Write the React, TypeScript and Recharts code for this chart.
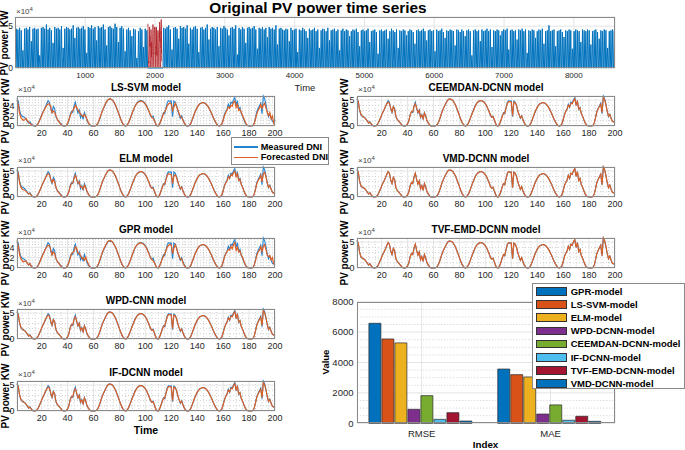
import { LineChart, Line, XAxis, YAxis, CartesianGrid, BarChart, Bar, Legend } from 'recharts'

// ---- data (PV power in units of 1e4 kW) ----
const measured = [
  5.3, 4.8, 3.0, 2.2, 1.9, 1.8, 1.6, 1.3, 0.9, 0.6, 0.8, 0.4, 0.1, 0, 0,
  0.1, 0.4, 0.9, 1.5, 2.1, 2.7, 3.2, 3.7, 4.4, 4.9, 4.6, 3.3, 2.6, 3.8, 3.4, 1.8, 1.3, 1.0, 0.7, 0.4, 0.1, 0,
  0, 0.1, 0.4, 1.0, 2.2, 2.8, 2.6, 3.9, 4.6, 3.4, 2.5, 3.1, 1.6, 2.2, 1.3, 2.6, 1.9, 1.0, 0.6, 0.2, 0, 0, 0, 0,
  0.1, 0.3, 0.8, 1.5, 2.3, 3.0, 3.6, 4.1, 4.6, 5.0, 5.2, 5.2, 5.1, 4.9, 4.5, 4.0, 3.4, 2.7, 2.0, 1.3, 0.7, 0.3, 0.05, 0,
  0.2, 0.6, 1.2, 1.9, 2.6, 3.2, 3.8, 4.3, 4.6, 4.8, 4.9, 4.9, 4.8, 4.6, 4.3, 3.9, 3.3, 2.7, 2.0, 1.7, 1.9, 1.1, 0.4, 0.05,
  0, 0.4, 1.1, 1.9, 2.6, 2.4, 3.6, 4.6, 4.9, 4.8, 4.8, 1.8, 4.8, 4.6, 4.0, 3.0, 2.2, 1.5, 2.0, 1.2, 0.6, 0.2, 0, 0,
  0.1, 0.5, 1.1, 1.8, 2.5, 3.1, 3.6, 4.0, 4.3, 4.4, 4.5, 4.5, 4.4, 4.2, 3.9, 3.5, 3.0, 2.5, 1.9, 1.3, 0.8, 0.4, 0.1, 0,
  0.1, 0.4, 1.2, 2.2, 2.8, 3.3, 4.2, 3.6, 4.6, 4.4, 5.1, 5.5, 4.0, 4.9, 3.2, 3.6, 2.4, 1.9, 1.2, 0.6, 0.2, 0.05, 0, 0, 0,
  0.1, 0.6, 1.6, 2.8, 3.4, 3.9, 4.4, 2.4, 5.8, 5.3, 4.2, 2.8, 1.8, 2.3, 1.5, 0.9, 0.8, 0.8,
]

const lssvm = [
  5.0, 4.1, 2.4, 1.7, 1.3, 1.1, 1.2, 1.5, 1.0, 0.7, 0.5, 0.3, 0.2, 0.1, 0,
  0.1, 0.3, 0.8, 1.4, 2.0, 2.6, 3.1, 3.6, 4.0, 4.3, 4.2, 3.8, 2.6, 2.9, 2.7, 2.0, 1.4, 0.9, 0.6, 0.3, 0.1, 0,
  0, 0.1, 0.5, 1.2, 1.9, 2.6, 3.0, 3.4, 4.0, 3.6, 3.1, 2.8, 2.3, 2.0, 1.8, 2.2, 1.9, 1.3, 0.7, 0.3, 0.1, 0, 0, 0,
  0.1, 0.4, 0.9, 1.6, 2.3, 3.0, 3.6, 4.2, 4.7, 5.0, 5.2, 5.3, 5.1, 4.9, 4.5, 4.0, 3.4, 2.7, 2.0, 1.3, 0.7, 0.3, 0.1, 0,
  0.2, 0.6, 1.2, 1.9, 2.6, 3.2, 3.8, 4.2, 4.5, 4.7, 4.8, 4.8, 4.7, 4.5, 4.2, 3.8, 3.3, 2.7, 2.1, 1.6, 1.5, 1.0, 0.4, 0.1,
  0, 0.4, 1.0, 1.7, 2.4, 2.8, 3.3, 4.0, 4.3, 4.5, 4.2, 3.0, 3.6, 4.4, 3.8, 3.2, 2.4, 1.8, 1.7, 1.1, 0.6, 0.2, 0, 0,
  0.1, 0.5, 1.1, 1.8, 2.5, 3.1, 3.6, 4.0, 4.3, 4.4, 4.5, 4.5, 4.4, 4.2, 3.9, 3.5, 3.0, 2.5, 1.9, 1.3, 0.8, 0.4, 0.1, 0,
  0.1, 0.4, 1.1, 2.0, 2.6, 3.1, 3.7, 3.4, 4.0, 3.8, 4.6, 4.8, 3.6, 4.2, 3.0, 3.2, 2.6, 2.0, 1.4, 0.8, 0.3, 0.1, 0, 0, 0,
  0.1, 0.5, 1.4, 2.4, 3.0, 3.5, 4.2, 3.4, 4.0, 4.4, 3.5, 2.7, 2.0, 2.6, 1.4, 1.9, 0.6, 1.2,
]

const elm = [
  5.2, 4.5, 2.7, 1.9, 1.5, 1.4, 1.3, 1.1, 0.8, 0.6, 0.7, 0.3, 0.1, 0, 0,
  0.1, 0.4, 0.9, 1.5, 2.1, 2.7, 3.2, 3.7, 4.2, 4.5, 4.3, 3.5, 2.8, 3.4, 3.0, 1.9, 1.3, 0.9, 0.6, 0.3, 0.1, 0,
  0, 0.1, 0.4, 1.0, 2.0, 2.6, 2.7, 3.6, 4.2, 3.5, 2.7, 2.9, 1.9, 2.0, 1.5, 2.3, 1.8, 1.1, 0.6, 0.2, 0, 0, 0, 0,
  0.1, 0.3, 0.8, 1.5, 2.3, 3.0, 3.6, 4.1, 4.6, 5.0, 5.2, 5.2, 5.1, 4.9, 4.5, 4.0, 3.4, 2.7, 2.0, 1.3, 0.7, 0.3, 0.1, 0,
  0.2, 0.6, 1.2, 1.9, 2.6, 3.2, 3.8, 4.3, 4.6, 4.8, 4.9, 4.9, 4.8, 4.6, 4.3, 3.9, 3.3, 2.7, 2.0, 1.7, 1.7, 1.1, 0.4, 0.1,
  0, 0.4, 1.1, 1.8, 2.5, 2.5, 3.4, 4.2, 4.5, 4.4, 4.3, 2.6, 4.0, 4.3, 3.8, 3.0, 2.2, 1.6, 1.9, 1.2, 0.6, 0.2, 0, 0,
  0.1, 0.5, 1.1, 1.8, 2.5, 3.1, 3.6, 4.0, 4.3, 4.4, 4.5, 4.5, 4.4, 4.2, 3.9, 3.5, 3.0, 2.5, 1.9, 1.3, 0.8, 0.4, 0.1, 0,
  0.1, 0.4, 1.2, 2.1, 2.7, 3.2, 3.9, 3.6, 4.3, 4.1, 4.7, 5.0, 3.9, 4.5, 3.2, 3.4, 2.4, 1.9, 1.2, 0.6, 0.2, 0.05, 0, 0, 0,
  0.1, 0.6, 1.5, 2.6, 3.2, 3.6, 4.2, 2.9, 4.5, 4.8, 3.9, 2.7, 1.9, 2.2, 1.5, 1.0, 0.7, 0.6,
]

const gpr = [
  5.1, 4.3, 2.6, 1.8, 1.4, 1.2, 1.3, 1.4, 0.9, 0.6, 0.9, 0.3, 0.1, 0, 0,
  0.1, 0.3, 0.8, 1.4, 2.0, 2.6, 3.1, 3.7, 4.1, 4.4, 4.3, 3.6, 2.5, 3.1, 2.8, 1.9, 1.3, 1.0, 0.6, 0.3, 0.1, 0,
  0, 0.1, 0.5, 1.1, 1.8, 2.7, 3.0, 3.2, 4.1, 3.8, 2.9, 2.8, 2.4, 1.8, 2.0, 1.5, 2.1, 1.4, 0.8, 0.3, 0.1, 0, 0, 0,
  0.1, 0.3, 0.9, 1.6, 2.4, 3.1, 3.7, 4.2, 4.7, 5.1, 5.3, 5.3, 5.2, 4.9, 4.5, 4.0, 3.4, 2.7, 2.0, 1.3, 0.7, 0.3, 0.1, 0,
  0.2, 0.6, 1.2, 1.9, 2.6, 3.3, 3.9, 4.3, 4.6, 4.8, 4.9, 4.8, 4.7, 4.5, 4.2, 3.8, 3.2, 2.6, 2.0, 1.6, 1.4, 1.0, 0.4, 0.1,
  0, 0.4, 1.0, 1.7, 2.3, 2.7, 3.4, 4.1, 4.4, 4.6, 4.4, 2.8, 3.8, 4.5, 3.9, 3.0, 2.3, 1.7, 1.8, 1.0, 0.5, 0.2, 0, 0,
  0.1, 0.5, 1.1, 1.8, 2.5, 3.1, 3.6, 4.0, 4.3, 4.4, 4.5, 4.5, 4.4, 4.2, 3.9, 3.5, 3.0, 2.5, 1.9, 1.3, 0.8, 0.4, 0.1, 0,
  0.1, 0.4, 1.2, 2.1, 2.7, 3.2, 3.6, 3.5, 4.2, 3.7, 4.5, 4.9, 3.4, 4.0, 3.1, 3.3, 2.4, 2.1, 1.3, 0.7, 0.3, 0.1, 0, 0, 0,
  0.1, 0.6, 1.5, 2.5, 3.1, 3.4, 4.1, 3.2, 4.2, 4.5, 3.6, 2.5, 2.2, 2.4, 1.6, 2.0, 0.8, 0.6,
]

// decomposition-based models track the measurement closely
const hybrid = [
  5.2, 4.7, 3.1, 2.3, 1.9, 1.7, 1.6, 1.3, 1.0, 0.6, 0.7, 0.4, 0.1, 0, 0,
  0.1, 0.4, 0.9, 1.5, 2.1, 2.7, 3.2, 3.8, 4.3, 4.6, 4.4, 3.5, 2.7, 3.7, 3.3, 1.9, 1.3, 1.0, 0.7, 0.4, 0.1, 0,
  0, 0.1, 0.4, 1.0, 2.1, 2.8, 2.7, 3.8, 4.3, 3.5, 2.6, 3.0, 1.7, 2.1, 1.4, 2.5, 1.9, 1.0, 0.6, 0.2, 0, 0, 0, 0,
  0.1, 0.3, 0.8, 1.5, 2.3, 3.0, 3.6, 4.1, 4.6, 5.0, 5.2, 5.2, 5.1, 4.9, 4.5, 4.0, 3.4, 2.7, 2.0, 1.3, 0.7, 0.3, 0.05, 0,
  0.2, 0.6, 1.2, 1.9, 2.5, 3.1, 3.7, 4.2, 4.6, 4.8, 4.9, 4.9, 4.8, 4.6, 4.3, 3.9, 3.3, 2.7, 2.1, 1.7, 1.8, 1.1, 0.4, 0.05,
  0, 0.4, 1.1, 1.8, 2.5, 2.5, 3.5, 4.4, 4.7, 4.7, 4.6, 2.0, 4.6, 4.5, 4.0, 3.0, 2.2, 1.6, 1.9, 1.2, 0.6, 0.2, 0, 0,
  0.1, 0.5, 1.1, 1.8, 2.5, 3.1, 3.6, 4.0, 4.3, 4.4, 4.5, 4.5, 4.4, 4.2, 3.9, 3.5, 3.0, 2.5, 1.9, 1.3, 0.8, 0.4, 0.1, 0,
  0.1, 0.4, 1.2, 2.1, 2.8, 3.3, 4.0, 3.7, 4.4, 4.3, 4.9, 5.3, 4.1, 4.7, 3.3, 3.5, 2.4, 1.9, 1.2, 0.6, 0.2, 0.05, 0, 0, 0,
  0.1, 0.6, 1.6, 2.7, 3.3, 3.8, 4.2, 2.6, 5.5, 5.1, 4.1, 2.9, 1.9, 2.2, 1.5, 0.9, 0.8, 0.7,
]

// daily peak of the whole-year series (1e4 kW), one per day
const dailyPeaks = [
  4.7, 4.6, 4.8, 4.5, 2.1, 4.7, 4.8, 4.6, 4.9, 3.2, 4.7, 4.8, 4.6, 4.7, 1.5, 4.8, 4.9, 4.7, 5.2, 4.6,
  4.8, 4.5, 3.0, 4.9, 4.7, 4.8, 4.6, 5.0, 2.4, 4.7, 4.9, 4.8, 4.6, 4.7, 5.1, 3.6, 4.8, 4.9, 4.7, 4.8,
  5.0, 4.6, 1.8, 4.9, 4.8, 5.1, 4.7, 4.9, 3.3, 5.0, 4.8, 4.9, 5.2, 4.6, 2.7, 4.9, 5.0, 4.8, 4.7, 5.3,
  4.9, 3.1, 4.8, 5.0, 4.7, 2.0, 4.6, 4.8, 4.5, 3.8, 4.7, 4.6, 1.2, 4.4, 4.8, 4.6, 2.5, 4.7, 4.5, 4.9,
  4.9, 4.6, 5.2, 4.9, 4.8, 4.5, 5.5, 5.8, 4.8, 4.7, 4.9, 5.1, 4.6, 2.2, 4.8, 4.9, 4.7, 3.5, 5.0, 4.8,
  4.9, 4.7, 5.1, 2.9, 4.8, 4.6, 4.9, 5.0, 4.7, 1.9, 4.8, 4.9, 4.6, 4.8, 5.2, 3.4, 4.7, 4.9, 4.8, 4.6,
  4.9, 2.6, 4.8, 4.7, 5.0, 4.8, 4.6, 3.9, 4.8, 4.9, 4.7, 5.1, 1.6, 4.8, 4.6, 4.9, 4.7, 3.0, 4.8, 4.9,
  4.7, 4.8, 5.0, 4.6, 2.3, 4.8, 4.7, 4.9, 4.6, 4.8, 3.7, 4.9, 4.7, 4.8, 4.6, 5.1, 2.8, 4.7, 4.8, 4.6,
  4.5, 4.7, 4.6, 3.2, 4.8, 4.5, 4.6, 4.7, 1.9, 4.6, 4.5, 4.8, 4.6, 4.4, 3.6, 4.7, 4.5, 4.6, 4.8, 4.4,
  4.6, 2.4, 4.5, 4.7, 4.6, 4.4, 4.8, 3.3, 4.5, 4.6, 4.7, 4.4, 4.6, 2.1, 4.5, 4.7, 4.4, 4.6, 4.5, 3.8,
  4.4, 4.6, 4.5, 4.7, 4.3, 2.6, 4.5, 4.6, 4.4, 4.5, 4.7, 3.1, 4.4, 4.5, 4.6, 4.3, 1.7, 4.5, 4.6, 4.4,
  4.5, 4.6, 3.5, 4.4, 4.7, 4.5, 4.3, 4.6, 2.4, 4.5, 4.4, 4.6, 4.5, 3.9, 4.4, 4.6, 4.5, 4.3, 2.9, 4.5,
  4.6, 4.4, 4.5, 4.7, 4.4, 3.3, 4.5, 4.6, 4.4, 4.5, 2.0, 4.6, 4.4, 4.5, 4.7, 4.3, 3.6, 4.5, 4.4, 4.6,
  4.5, 4.4, 2.7, 4.6, 4.5, 4.3, 4.6, 4.4, 3.8, 4.5, 4.6, 4.4, 1.5, 4.5, 4.6, 4.4, 4.5, 3.2, 4.6, 4.4,
  4.5, 4.7, 4.4, 4.6, 2.5, 4.5, 4.4, 4.6, 4.5, 3.9, 4.4, 4.6, 4.5, 4.7, 2.2, 4.5, 4.6, 4.4, 4.5, 3.4,
  4.6, 4.5, 4.7, 4.4, 4.6, 1.8, 4.5, 4.4, 4.6, 4.5, 3.6, 4.4, 4.6, 4.5, 4.7, 2.9, 4.4, 4.5, 5.1, 4.4,
  4.5, 4.6, 2.6, 4.4, 4.5, 4.6, 4.3, 3.7, 4.5, 4.4, 4.6, 4.5, 2.3, 4.4, 4.6, 4.5, 4.4, 3.1, 4.6, 4.5,
  4.4, 4.6, 4.5, 2.8, 4.4, 4.5, 4.6, 4.3, 3.5, 4.5, 4.4, 4.6, 4.5, 2.4, 4.4, 4.5, 4.6, 4.4,
]

const yearTicks = [1000, 2000, 3000, 4000, 5000, 6000, 7000, 8000]
const sampleTicks = [20, 40, 60, 80, 100, 120, 140, 160, 180, 200]
const TEST_START = 1899 // hour of sample 1 inside the year

const metrics = ['RMSE', 'MAE']
const modelNames = ['GPR-model', 'LS-SVM-model', 'ELM-model', 'WPD-DCNN-model', 'CEEMDAN-DCNN-model', 'IF-DCNN-model', 'TVF-EMD-DCNN-model', 'VMD-DCNN-model']
const rmse = [6580, 5550, 5290, 920, 1820, 260, 700, 150]
const mae = [3570, 3200, 3050, 610, 1210, 200, 460, 130]
const valueTicks = [0, 2000, 4000, 6000, 8000]
const barColors = ['#0072BD', '#D95319', '#EDB120', '#7E2F8E', '#77AC30', '#4DBEEE', '#A2142F', '#0072BD']

const lineKeys = ['Measured DNI', 'Forecasted DNI']

// ---- tables ----
const rows = measured.map((v, i) => ({ t: i + 1, m: v, lssvm: lssvm[i], elm: elm[i], gpr: gpr[i], hyb: hybrid[i] }))
const yearBlue = dailyPeaks.flatMap((p, d) => {
  const h = d * 24
  if (h + 12 > TEST_START - 10 && h + 12 < TEST_START + 210) return []
  return [{ t: h + 3, v: 0 }, { t: h + 12, v: p }, { t: h + 21, v: 0 }]
})
const yearRed = measured.map((v, i) => ({ t: TEST_START + i, v }))
const barRows = metrics.map((name, i) => {
  const row: Record<string, number | string> = { name }
  modelNames.forEach((m, j) => { row[m] = i === 0 ? rmse[j] : mae[j] })
  return row
})

// ---- styling ----
const INK = '#262626'
const BLUE = '#2284D0'
const ORANGE = '#DE5F24'
const FRAME = '#8a8a8a'
const MAJOR = '#e4e4e4'
const MINOR = '#d0d0d0'
const FONT = '"Liberation Sans", Arial, Helvetica, sans-serif'

const COL_X = [17, 357]
const COL_W = 258
const ROW_Y = [95.5, 166.75, 238, 309.25, 380.5]
const ROW_H = 30
const Y_MAX = 5.8
const ML = 16
const MT = 2
const MR = 12
const XH = 14

function Txt({ x, y, size = 10, bold = false, color = '#000', rotate = false, anchor = 'middle', children }: any) {
  const tx = anchor === 'middle' ? '-50%' : anchor === 'end' ? '-100%' : '0'
  return (
    <div
      style={{
        position: 'absolute', left: x, top: y, fontSize: size, fontWeight: bold ? 700 : 400, color,
        whiteSpace: 'nowrap', lineHeight: 1, width: 'max-content',
        transform: `translate(${tx},-50%)${rotate ? ' rotate(-90deg)' : ''}`,
      }}
    >
      {children}
    </div>
  )
}

function Exp({ x, y }: { x: number; y: number }) {
  return (
    <div style={{ position: 'absolute', left: x, top: y, fontSize: 8, color: '#404040', lineHeight: 1, whiteSpace: 'nowrap' }}>
      ×10<span style={{ fontSize: 6, position: 'relative', top: -3 }}>4</span>
    </div>
  )
}

function LineKey() {
  return (
    <div style={{ width: '100%', height: '100%', boxSizing: 'border-box', border: `1px solid ${FRAME}`, background: '#fff', position: 'relative' }}>
      {lineKeys.map((k, i) => (
        <div key={k} style={{ position: 'absolute', left: 2, top: 4.2 + i * 10.6, height: 10, display: 'flex', alignItems: 'center', whiteSpace: 'nowrap' }}>
          <div style={{ width: 24, height: 1.4, flexShrink: 0, background: i === 0 ? BLUE : ORANGE }} />
          <span style={{ marginLeft: 3, fontSize: 9.2, fontWeight: 700, color: '#000', lineHeight: 1 }}>{k}</span>
        </div>
      ))}
    </div>
  )
}

function BarKey() {
  return (
    <div style={{ width: '100%', height: '100%', boxSizing: 'border-box', border: `1px solid ${FRAME}`, background: '#fff', position: 'relative' }}>
      {modelNames.map((m, i) => (
        <div key={m} style={{ position: 'absolute', left: 3, top: 1.6 + i * 13.2, height: 12, display: 'flex', alignItems: 'center', whiteSpace: 'nowrap' }}>
          <div style={{ width: 31.5, height: 8.7, flexShrink: 0, boxSizing: 'border-box', background: barColors[i], border: '0.8px solid #333' }} />
          <span style={{ marginLeft: 3.5, fontSize: 9.5, fontWeight: 700, color: '#000', lineHeight: 1 }}>{m}</span>
        </div>
      ))}
    </div>
  )
}

function Panel({ col, row, title, pred, yTicks, withKey }: any) {
  const x = COL_X[col]
  const y = ROW_Y[row]
  const minorX = Array.from({ length: 40 }, (_, i) => (i + 1) * 5).filter((v) => v % 20 !== 0 && v < 200)
  const step = yTicks.length > 2 ? 0.5 : 1
  const minorY = Array.from({ length: 12 }, (_, i) => (i + 1) * step).filter((v) => v < Y_MAX && !yTicks.includes(v))
  const vx = minorX.map((v) => ML + ((v - 1) / 199) * COL_W)
  const hy = minorY.map((v) => MT + ROW_H - (v / Y_MAX) * ROW_H)
  return (
    <>
      <Txt x={x + COL_W / 2} y={y - 8} size={10} bold>{title}</Txt>
      <Txt x={col === 0 ? 5.5 : 345} y={y + ROW_H / 2} size={10} bold rotate>PV power KW</Txt>
      <Exp x={x + 1} y={y - 9.5} />
      <div style={{ position: 'absolute', left: x - ML, top: y - MT }}>
        <LineChart width={ML + COL_W + MR} height={MT + ROW_H + XH} data={rows} margin={{ top: MT, right: MR, left: 0, bottom: 0 }}>
          <CartesianGrid verticalPoints={vx} horizontalPoints={hy} stroke={MINOR} strokeDasharray="1 2" />
          <CartesianGrid stroke={MAJOR} />
          <XAxis dataKey="t" type="number" domain={[1, 200]} ticks={sampleTicks} height={XH} axisLine={false} tickLine={false}
            tickSize={2} tickMargin={1.5} tick={{ fontSize: 9, fill: INK }} interval={0} />
          <YAxis domain={[0, Y_MAX]} ticks={yTicks} width={ML} axisLine={false} tickLine={false}
            tickSize={1} tickMargin={1.5} tick={{ fontSize: 9, fill: INK }} interval={0} />
          <Line dataKey="m" type="linear" stroke={BLUE} strokeWidth={1.1} dot={false} isAnimationActive={false} />
          <Line dataKey={pred} type="linear" stroke={ORANGE} strokeWidth={1.2} dot={false} isAnimationActive={false} />
          {withKey && (
            <Legend layout="vertical" align="center" verticalAlign="middle"
              wrapperStyle={{ left: 229.7, top: 137 - (y - MT), width: 98, height: 27.5, zIndex: 3 }}
              content={() => <LineKey />} />
          )}
        </LineChart>
        <div style={{ position: 'absolute', left: ML, top: MT, width: COL_W, height: ROW_H, boxSizing: 'border-box', border: `1px solid ${FRAME}`, pointerEvents: 'none' }} />
      </div>
    </>
  )
}

function YearPlot() {
  const left = 15.4
  const w = 615 - left
  const top = 7
  const h = 51
  return (
    <>
      <Txt x={318} y={8} size={15.4} bold>Original PV power time series</Txt>
      <Txt x={5} y={43} size={10} bold rotate>PV power KW</Txt>
      <Exp x={16} y={7.5} />
      <Txt x={305} y={88} size={9.5} color={INK}>Time</Txt>
      <div style={{ position: 'absolute', left: 0, top: 10 }}>
        <LineChart width={630} height={80} margin={{ top, right: 630 - left - w, left: 0, bottom: 0 }}>
          <CartesianGrid stroke={MAJOR} />
          <XAxis dataKey="t" type="number" domain={[0, 8590]} ticks={yearTicks} height={80 - top - h} axisLine={false} tickLine={false}
            tickSize={2} tickMargin={2} tick={{ fontSize: 8, fill: INK }} interval={0} allowDataOverflow />
          <YAxis domain={[0, 6.1]} ticks={[0, 5]} width={left} axisLine={false} tickLine={false}
            tickSize={1} tickMargin={1.5} tick={{ fontSize: 8.5, fill: INK }} interval={0} />
          <Line data={yearBlue} dataKey="v" type="linear" stroke="#0072BD" strokeWidth={1} dot={false} isAnimationActive={false} />
          <Line data={yearRed} dataKey="v" type="linear" stroke="#B3262C" strokeWidth={0.8} dot={false} isAnimationActive={false} />
        </LineChart>
        <div style={{ position: 'absolute', left, top, width: w, height: h, boxSizing: 'border-box', border: `1px solid ${FRAME}`, pointerEvents: 'none' }} />
      </div>
    </>
  )
}

function ScorePlot() {
  const ox = 320
  const oy = 270
  const W = 365
  const H = 180
  const left = 357.3 - ox
  const top = 301.7 - oy
  const w = 257.7
  const h = 121.6
  const minorY = [500, 1000, 1500, 2500, 3000, 3500, 4500, 5000, 5500, 6500, 7000, 7500]
  const hy = minorY.map((v) => top + h - (v / 8000) * h)
  return (
    <>
      <Txt x={326} y={362} size={9.5} bold rotate>Value</Txt>
      <Txt x={485.5} y={444.5} size={9.8} bold>Index</Txt>
      <div style={{ position: 'absolute', left: ox, top: oy }}>
        <BarChart width={W} height={H} data={barRows} margin={{ top, right: W - left - w, left: 0, bottom: 0 }}
          barCategoryGap="9%" barGap={1}>
          <CartesianGrid horizontalPoints={hy} vertical={false} stroke={MINOR} strokeDasharray="1 2" />
          <CartesianGrid stroke={MAJOR} />
          <XAxis dataKey="name" height={H - top - h} axisLine={false} tickLine={false}
            tickSize={3} tickMargin={3.6} tick={{ fontSize: 9.5, fill: INK }} interval={0} />
          <YAxis domain={[0, 8000]} ticks={valueTicks} width={left} axisLine={false} tickLine={false}
            tickSize={2} tickMargin={1.8} tick={{ fontSize: 9.5, fill: INK }} interval={0} />
          {modelNames.map((m, i) => (
            <Bar key={m} dataKey={m} fill={barColors[i]} stroke="#2a2a2a" strokeWidth={0.7} isAnimationActive={false} />
          ))}
          <Legend layout="vertical" align="center" verticalAlign="middle"
            wrapperStyle={{ left: 531.7 - ox, top: 282.7 - oy, width: 153, height: 106.6, zIndex: 3 }}
            content={() => <BarKey />} />
        </BarChart>
        <div style={{ position: 'absolute', left, top, width: w, height: h, boxSizing: 'border-box', border: `1px solid ${FRAME}`, pointerEvents: 'none', zIndex: 1 }} />
      </div>
    </>
  )
}

const panels = [
  { col: 0, row: 0, title: 'LS-SVM model', pred: 'lssvm', yTicks: [0, 2, 4], withKey: true },
  { col: 0, row: 1, title: 'ELM model', pred: 'elm', yTicks: [0, 5] },
  { col: 0, row: 2, title: 'GPR model', pred: 'gpr', yTicks: [0, 2, 4] },
  { col: 0, row: 3, title: 'WPD-CNN model', pred: 'hyb', yTicks: [0, 5] },
  { col: 0, row: 4, title: 'IF-DCNN model', pred: 'hyb', yTicks: [0, 5] },
  { col: 1, row: 0, title: 'CEEMDAN-DCNN model', pred: 'hyb', yTicks: [0, 5] },
  { col: 1, row: 1, title: 'VMD-DCNN model', pred: 'm', yTicks: [0, 5] },
  { col: 1, row: 2, title: 'TVF-EMD-DCNN model', pred: 'm', yTicks: [0, 5] },
]

export default function App() {
  return (
    <div style={{ position: 'absolute', left: 0, top: 0, width: 685, height: 450, overflow: 'hidden', background: '#fff', fontFamily: FONT }}>
      <YearPlot />
      {panels.map((p) => (
        <Panel key={p.title} {...p} />
      ))}
      <Txt x={146} y={429.5} size={10.5} bold>Time</Txt>
      <ScorePlot />
    </div>
  )
}
